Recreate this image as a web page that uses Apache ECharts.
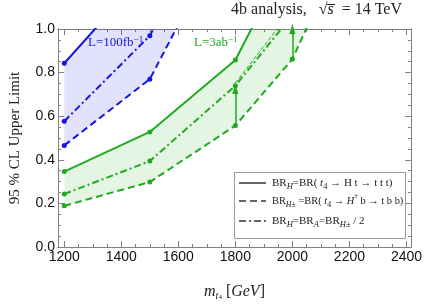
<!DOCTYPE html>
<html><head><meta charset="utf-8">
<script src="https://cdn.jsdelivr.net/npm/echarts@6/dist/echarts.min.js"></script>
<style>html,body{margin:0;padding:0;background:#fff}#c{width:425px;height:306px}</style>
</head><body><div id="c"></div>
<script>
// ---- data ----
const massBlue = [1200, 1500, 1800];
const blueSolid = [0.843, 1.28, 1.72];
const blueDashed = [0.466, 0.770, 1.52];
const blueDashDot = [0.577, 0.969, 1.70];
const massGreen = [1200, 1500, 1800, 2000, 2200];
const greenSolid = [0.346, 0.528, 0.858, 1.365, 1.90];
const greenDashed = [0.189, 0.298, 0.557, 0.862, 1.437];
const greenDashDot = [0.243, 0.394, 0.740, 1.063, 1.40];
const greenThinMass = [1800, 2000];
const greenThin = [0.752, 1.09];
const arrowMass = [1800, 2000];
const arrowFrom = [0.557, 0.862];
const arrowTo = [0.725, 1.0];
const xMajor = [1200, 1400, 1600, 1800, 2000, 2200, 2400];
const xMinor = [1200,1250,1300,1350,1400,1450,1500,1550,1600,1650,1700,1750,1800,1850,1900,1950,2000,2050,2100,2150,2200,2250,2300,2350,2400];
const yMajor = [0, 0.2, 0.4, 0.6, 0.8, 1.0];
const yMinor = [0.05,0.1,0.15,0.25,0.3,0.35,0.45,0.5,0.55,0.65,0.7,0.75,0.85,0.9,0.95];

const X_MIN = 1178, X_MAX = 2416, Y_MIN = 0, Y_MAX = 1;
const BLUE = '#1414e6', GREEN = '#1faa1f';
const FRAME = '#808080';
const DASH = [7, 4], DASHDOT = [7, 3, 2, 3];
const serif = 'Liberation Serif';

const pairs = (xs, ys) => xs.map((x, i) => [x, ys[i]]);

// Sutherland–Hodgman clip of a polygon (data space) to the plot range
function clipPoly(poly) {
  const edges = [
    [p => p[0] >= X_MIN, (a, b) => { const t = (X_MIN - a[0]) / (b[0] - a[0]); return [X_MIN, a[1] + t * (b[1] - a[1])]; }],
    [p => p[0] <= X_MAX, (a, b) => { const t = (X_MAX - a[0]) / (b[0] - a[0]); return [X_MAX, a[1] + t * (b[1] - a[1])]; }],
    [p => p[1] >= Y_MIN, (a, b) => { const t = (Y_MIN - a[1]) / (b[1] - a[1]); return [a[0] + t * (b[0] - a[0]), Y_MIN]; }],
    [p => p[1] <= Y_MAX, (a, b) => { const t = (Y_MAX - a[1]) / (b[1] - a[1]); return [a[0] + t * (b[0] - a[0]), Y_MAX]; }]
  ];
  let out = poly;
  for (const [inside, inter] of edges) {
    const inp = out; out = [];
    for (let i = 0; i < inp.length; i++) {
      const cur = inp[i], prev = inp[(i + inp.length - 1) % inp.length];
      if (inside(cur)) { if (!inside(prev)) out.push(inter(prev, cur)); out.push(cur); }
      else if (inside(prev)) out.push(inter(prev, cur));
    }
  }
  return out;
}
function band(xs, top, bottom, fill) {
  const poly = pairs(xs, top).concat(pairs(xs, bottom).reverse());
  return {type:'custom', silent:true, z:1, data:[[xs[0], bottom[0]]],
    renderItem:(params, api) => ({type:'polygon',
      shape:{points:clipPoly(poly).map(p => api.coord(p))},
      style:{fill, stroke:'none'}})};
}

function xAx(pos, ticks, len, label) {
  return {type:'value', min:X_MIN, max:X_MAX, position:pos,
    axisLine:{show:true, onZero:false, lineStyle:{color:FRAME, width:1}},
    axisTick:{show:true, inside:true, length:len, customValues:ticks, lineStyle:{color:FRAME}},
    axisLabel:label ? {show:true, customValues:ticks, margin:3, fontFamily:'Liberation Sans', fontSize:14, color:'#111', formatter:v=>String(Math.round(v))} : {show:false},
    splitLine:{show:false}};
}
function yAx(pos, ticks, len, label) {
  return {type:'value', min:Y_MIN, max:Y_MAX, position:pos,
    axisLine:{show:true, onZero:false, lineStyle:{color:FRAME, width:1}},
    axisTick:{show:true, inside:true, length:len, customValues:ticks, lineStyle:{color:FRAME}},
    axisLabel:label ? {show:true, customValues:ticks, margin:3, fontFamily:'Liberation Sans', fontSize:14, color:'#111', formatter:v=>v.toFixed(1)} : {show:false},
    splitLine:{show:false}};
}
const xAxes = [xAx('bottom', xMajor, 6, true), xAx('bottom', xMinor, 3, false), xAx('top', xMajor, 6, false), xAx('top', xMinor, 3, false)];
const yAxes = [yAx('left', yMajor, 6, true), yAx('left', yMinor, 3, false), yAx('right', yMajor, 6, false), yAx('right', yMinor, 3, false)];
xAxes[0].name = '{i|m}{s|t}{ss|4}{n| [}{i|GeV}{n|]}';
xAxes[0].nameLocation = 'middle';
xAxes[0].nameGap = 35;
xAxes[0].nameTextStyle = {fontFamily:serif, fontSize:16, color:'#222', rich:{
  i:{fontFamily:serif, fontStyle:'italic', fontSize:16, lineHeight:19},
  n:{fontFamily:serif, fontSize:16, lineHeight:19},
  s:{fontFamily:serif, fontStyle:'italic', fontSize:10, lineHeight:9, verticalAlign:'bottom'},
  ss:{fontFamily:serif, fontSize:7, lineHeight:5, verticalAlign:'bottom'}}};
yAxes[0].name = '95 % CL Upper Limit';
yAxes[0].nameLocation = 'middle';
yAxes[0].nameGap = 35;
yAxes[0].nameTextStyle = {fontFamily:serif, fontSize:15, color:'#222'};

function line(name, xs, ys, color, type, opts) {
  return Object.assign({type:'line', name, data:pairs(xs, ys), clip:true,
    symbol:'circle', symbolSize:5, showSymbol:true, itemStyle:{color},
    lineStyle:{color, width:2, type}, z:3, silent:true}, opts || {});
}

const series = [
  band(massBlue, blueSolid, blueDashed, 'rgba(20,20,230,0.12)'),
  line('bDashed', massBlue, blueDashed, BLUE, DASH),
  line('bSolid', massBlue, blueSolid, BLUE, 'solid'),
  line('bDashDot', massBlue, blueDashDot, BLUE, DASHDOT),
  band(massGreen, greenSolid, greenDashed, 'rgba(31,170,31,0.12)'),
  line('gDashed', massGreen, greenDashed, GREEN, DASH),
  line('gSolid', massGreen, greenSolid, GREEN, 'solid'),
  line('gDashDot', massGreen, greenDashDot, GREEN, DASHDOT),
  line('gThin', greenThinMass, greenThin, GREEN, [4, 2], {symbol:'none', lineStyle:{color:GREEN, width:1, type:[4,2]}}),
  {type:'line', name:'arrows', data:[], silent:true,
    markLine:{silent:true, symbol:['none','triangle'], symbolSize:[6,10], label:{show:false},
      lineStyle:{color:GREEN, width:1.5, type:'solid'},
      data:arrowMass.map((m, i) => [{coord:[m, arrowFrom[i]]}, {coord:[m, arrowTo[i]]}])}}
];

function legRich(fs) {
  return {
    n:{fontFamily:serif, fontSize:fs, lineHeight:16, fill:'#222'},
    i:{fontFamily:serif, fontSize:fs, fontStyle:'italic', lineHeight:16, fill:'#222'},
    sub:{fontFamily:serif, fontSize:fs - 2.5, fontStyle:'italic', lineHeight:8, verticalAlign:'bottom', fill:'#222'},
    sub2:{fontFamily:serif, fontSize:fs - 2.5, lineHeight:8, verticalAlign:'bottom', fill:'#222'},
    sup:{fontFamily:serif, fontSize:fs - 3.5, lineHeight:8, verticalAlign:'top', fill:'#222'}
  };
}
const legendRows = [
  {y:183, fs:11, dash:null, text:'{n|BR}{sub|H}{n|=BR( }{i|t}{sub2|4}{n| → H t → t t t)}'},
  {y:201, fs:10.4, dash:DASH, text:'{n|BR}{sub|H±}{n| =BR( }{i|t}{sub2|4}{n| → }{i|H}{sup|±}{n| b → t b b)}'},
  {y:221, fs:11, dash:DASHDOT, text:'{n|BR}{sub|H}{n|=BR}{sub|A}{n|=BR}{sub|H±}{n| / 2}'}
];
const legendGraphic = [{type:'rect', shape:{x:234.5, y:172.5, width:171, height:66}, style:{fill:'#fff', stroke:'#999', lineWidth:1}, z:10}];
legendRows.forEach(r => {
  legendGraphic.push({type:'line', shape:{x1:239, y1:r.y, x2:266, y2:r.y}, style:{stroke:'#333', lineWidth:1.5, lineDash:r.dash || null}, z:11});
  legendGraphic.push({type:'text', x:272, y:r.y, style:{text:r.text, verticalAlign:'middle', rich:legRich(r.fs)}, z:11});
});

const chart = echarts.init(document.getElementById('c'), null, {renderer:'canvas'});
chart.setOption({
  animation:false,
  backgroundColor:'#fff',
  grid:{left:56, right:12, top:29, bottom:58, containLabel:false},
  xAxis:xAxes,
  yAxis:yAxes,
  series,
  graphic:[
    {type:'text', right:23, top:2, style:{text:'{n|4b analysis,   √}{i|s̅}{n|  = 14 TeV}', fill:'#222',
      rich:{n:{fontFamily:serif, fontSize:16, lineHeight:20}, i:{fontFamily:serif, fontStyle:'italic', fontSize:16, lineHeight:20}}}},
    {type:'text', left:88, top:35, style:{text:'{n|L=100fb}{s|−1}', fill:BLUE,
      rich:{n:{fontFamily:serif, fontSize:13, lineHeight:16, fill:BLUE}, s:{fontFamily:serif, fontSize:9, lineHeight:8, verticalAlign:'top', fill:BLUE}}}},
    {type:'text', left:194, top:35, style:{text:'{n|L=3ab}{s|−1}', fill:GREEN,
      rich:{n:{fontFamily:serif, fontSize:13, lineHeight:16, fill:GREEN}, s:{fontFamily:serif, fontSize:9, lineHeight:8, verticalAlign:'top', fill:GREEN}}}}
  ].concat(legendGraphic)
});
</script></body></html>
